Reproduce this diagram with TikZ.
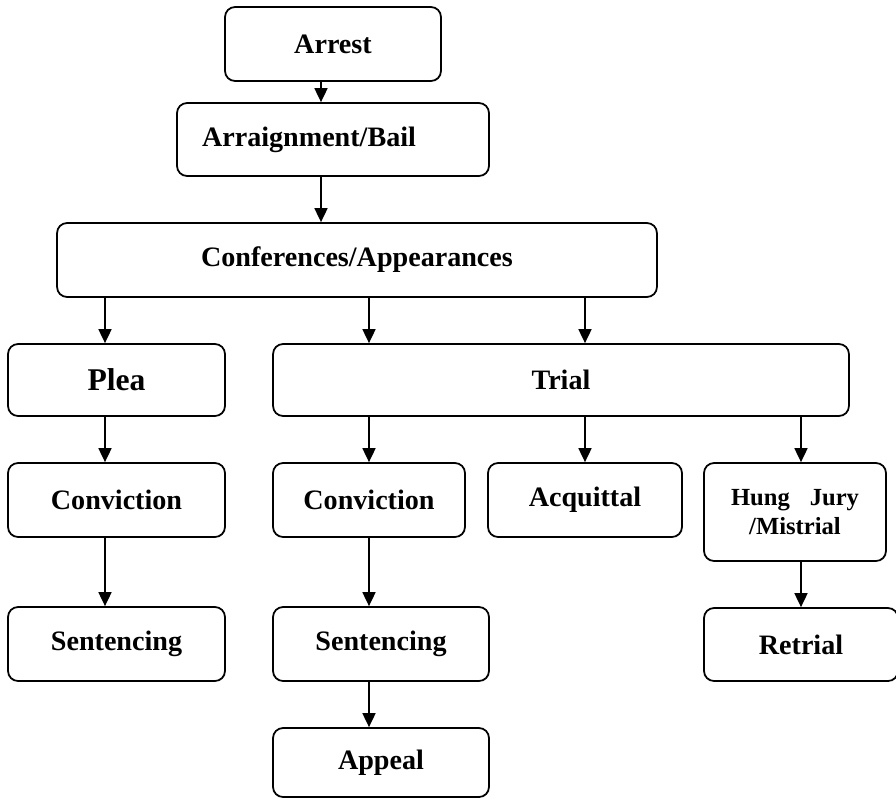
\documentclass[tikz,border=0pt]{standalone}
\usepackage{fontspec}
\setmainfont{Liberation Serif}
\usetikzlibrary{arrows.meta,positioning}

\begin{document}
\begin{tikzpicture}[x=0.02cm,y=-0.02cm,
box/.style={draw,rounded corners=2mm,line width=1pt,align=center,inner sep=0pt,
  font=\fontsize{16}{19}\selectfont\bfseries},
wide/.style={box,minimum height=1.48cm},
arr/.style={-{Triangle[length=2.8mm,width=2.6mm]},line width=1pt}]
\useasboundingbox (0,0) rectangle (896,799);
\node[wide,minimum width=4.32cm] (arrest) at (333,44) {Arrest};
\node[box,minimum height=1.46cm,text width=5.24cm,inner xsep=0.5cm,align=left] (arraign) at (333,139.5) {Arraignment/Bail};
\node[wide,minimum width=12cm] (conf) at (357,260) {Conferences/Appearances};
\node[box,minimum width=4.34cm,minimum height=1.44cm,font=\fontsize{18}{21}\selectfont\bfseries] (plea) at (116.5,380) {Plea};
\node[box,minimum width=11.52cm,minimum height=1.44cm] (trial) at (561,380) {Trial};
\node[wide,minimum width=4.34cm] (conv1) at (116.5,500) {Conviction};
\node[wide,minimum width=3.84cm] (conv2) at (369,500) {Conviction};
\node[wide,minimum width=3.88cm] (acq) at (585,500) {Acquittal};
\node[box,minimum width=3.64cm,minimum height=1.96cm,font=\fontsize{14}{17}\selectfont\bfseries] (hung) at (795,512) {\makebox[2.56cm][s]{Hung Jury}\\/Mistrial};
\node[wide,minimum width=4.34cm] (sent1) at (116.5,644) {Sentencing};
\node[wide,minimum width=4.32cm] (sent2) at (381,644) {Sentencing};
\node[box,minimum width=3.88cm,minimum height=1.46cm] (retrial) at (801,644.5) {Retrial};
\node[box,minimum width=4.32cm,minimum height=1.38cm] (appeal) at (381,762.5) {Appeal};
% left column
\draw[arr] ([xshift=-2.4mm]arrest.south)--([xshift=-2.4mm]arraign.north);
\draw[arr] ([xshift=-2.4mm]arraign.south)--([xshift=-7.2mm]conf.north);
\draw[arr] (conf.south -| 105,0)--([xshift=-2.3mm]plea.north);
\draw[arr] ([xshift=-2.3mm]plea.south)--([xshift=-2.3mm]conv1.north);
\draw[arr] ([xshift=-2.3mm]conv1.south)--([xshift=-2.3mm]sent1.north);
% trial branches
\draw[arr] (conf.south -| conv2)--(trial.north -| conv2);
\draw[arr] (conf.south -| acq)--(trial.north -| acq);
\draw[arr] (trial.south -| conv2)--(conv2);
\draw[arr] (trial.south -| acq)--(acq);
\draw[arr] (trial.south -| retrial)--(hung.north -| retrial);
\draw[arr] (conv2)--(sent2.north -| conv2);
\draw[arr] (sent2.south -| conv2)--(appeal.north -| conv2);
\draw[arr] (hung.south -| retrial)--(retrial);
\end{tikzpicture}
\end{document}
